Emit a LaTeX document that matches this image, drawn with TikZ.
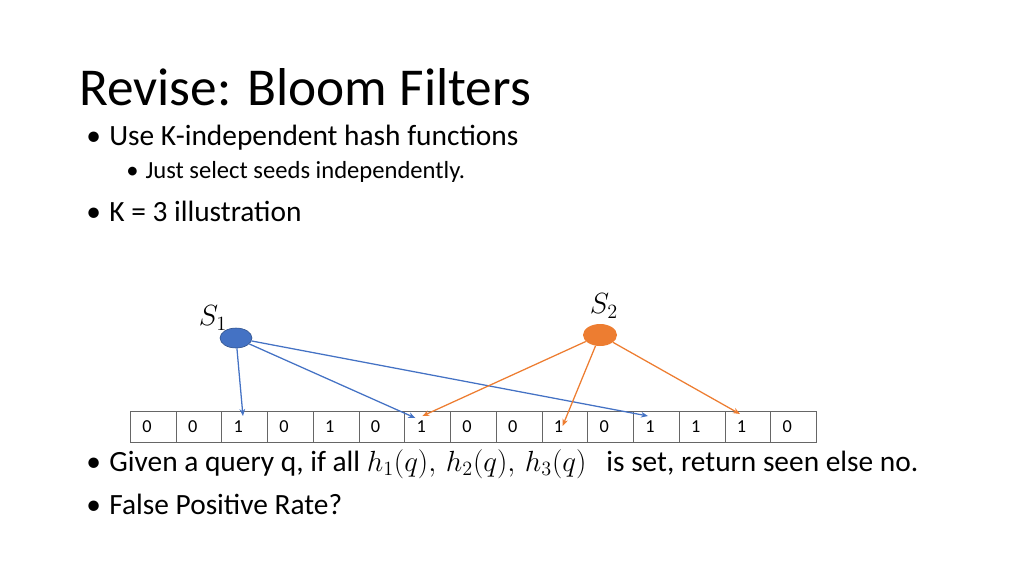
\documentclass[tikz,border=0pt]{standalone}
\usepackage{fontspec}
\setmainfont{Carlito}
\usetikzlibrary{arrows.meta,shapes.geometric}
\definecolor{setblue}{HTML}{4472C4}
\definecolor{setorange}{HTML}{ED7D31}
\tikzset{
  cell/.style={draw=black!60, line width=0.5pt, minimum width=45.73*0.025cm, minimum height=31*0.025cm, inner sep=0pt, anchor=north west},
  hashblue/.style={setblue, line width=0.9pt, -{Stealth[length=5pt,width=4pt]}},
  hashorange/.style={setorange, line width=0.9pt, -{Stealth[length=5pt,width=4pt]}},
  bullet/.style={anchor=west, inner sep=0pt}
}
\begin{document}
\begin{tikzpicture}[x=0.025cm, y=-0.025cm]
\useasboundingbox (0,0) rectangle (1024,575);
% title and bullets
\node[bullet] (title) at (79,87) {\fontsize{37.9}{44}\selectfont Revise: Bloom Filters};
\node[bullet] (b1) at (86,138) {\fontsize{20.9}{25}\selectfont •\hspace{6pt}Use K-independent hash functions};
\node[bullet] (b2) at (126,172) {\fontsize{17.5}{21}\selectfont •\hspace{5pt}Just select seeds independently.};
\node[bullet] (b3) at (86,211) {\fontsize{20.9}{25}\selectfont •\hspace{6pt}K = 3 illustration};
\node[bullet] (b4) at (86,464) {\fontsize{20.9}{25}\selectfont •\hspace{6pt}Given a query q, if all $h_1(q),\, h_2(q),\, h_3(q)$\ \ \ is set, return seen else no.};
\node[bullet] (b5) at (86,504) {\fontsize{20.9}{25}\selectfont •\hspace{6pt}False Positive Rate?};
% bit array
\foreach \v [count=\i] in {0,0,1,0,1,0,1,0,0,1,0,1,1,1,0}
  \node[cell] (c\i) at ({130+45.73*(\i-1)},411) {};
\foreach \v [count=\i] in {0,0,1,0,1,0,1,0,0,1,0,1,1,1,0}
  \node[anchor=west, inner sep=0pt] (t\i) at ({142+45.73*(\i-1)},427) {\fontsize{13}{15}\selectfont \v};
% sets
\node[ellipse, fill=setblue, draw=setblue!70!black, minimum width=32*0.025cm, minimum height=20*0.025cm, inner sep=0pt] (s1) at (236,338) {};
\node[ellipse, fill=setorange, minimum width=34*0.025cm, minimum height=22*0.025cm, inner sep=0pt] (s2) at (600,335) {};
\node (l1) at (213,318) {\fontsize{20}{24}\selectfont $S_1$};
\node (l2) at (604,306) {\fontsize{20}{24}\selectfont $S_2$};
% hash arrows
\draw[hashblue] (s1) -- ([shift={(21.5,5)}]c3.north west);
\draw[hashblue] (s1) -- ([shift={(11,7)}]c7.north west);
\draw[hashblue] (s1) -- ([shift={(15,5)}]c12.north west);
\draw[hashorange] (s2) -- ([shift={(18,5)}]c7.north west);
\draw[hashorange] (s2) -- ([shift={(21,15)}]c10.north west);
\draw[hashorange] (s2) -- ([shift={(15.5,3)}]c14.north west);
\end{tikzpicture}
\end{document}
